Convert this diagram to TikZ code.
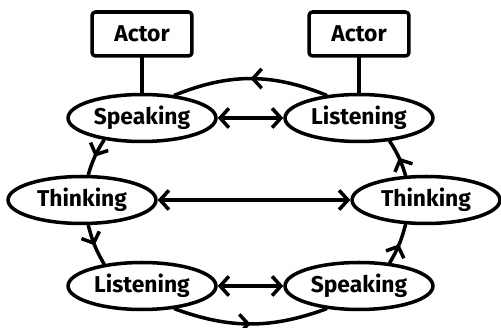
\documentclass[tikz,border=0pt]{standalone}
\usepackage{fontspec}
\setmainfont{Fira Sans}
\usetikzlibrary{arrows.meta,decorations.markings,shapes.geometric}

\begin{document}
\begin{tikzpicture}[x=0.02cm, y=0.02cm]
% Conversation loop between two actors
\providecommand{\loopLineWidth}{2pt}
\providecommand{\loopFont}{\fontsize{13pt}{15pt}\selectfont\bfseries}
\providecommand{\loopTip}{Straight Barb[length=5pt,width=11pt]}
\tikzset{
  state/.style={ellipse, draw, line width=\loopLineWidth, minimum width=2.96cm, minimum height=0.94cm, inner sep=0pt, font=\loopFont},
  actor/.style={rectangle, draw, rounded corners=2pt, line width=\loopLineWidth, minimum width=2cm, minimum height=0.88cm, font=\loopFont},
  barb/.style={line width=\loopLineWidth, {\loopTip}-{\loopTip}},
  flow/.style={line width=\loopLineWidth, postaction={decorate},
    decoration={markings, mark=at position 0.5 with {\arrow{\loopTip}}}},
}
\useasboundingbox (0,0) rectangle (501,328);
\begin{scope}[line cap=round, line join=round]
  % Actors
  \node[actor] (actorL) at (142,294) {Actor};
  \node[actor] (actorR) at (359,294) {Actor};
  % States
  \node[state] (speakL) at (142,210) {Speaking};
  \node[state] (listenR) at (359,210) {Listening};
  \node[state] (thinkL) at (82,128) {Thinking};
  \node[state] (thinkR) at (426,128) {Thinking};
  \node[state] (listenL) at (142,42) {Listening};
  \node[state] (speakR) at (359,42) {Speaking};
  % Actor links
  \draw[line width=\loopLineWidth] (actorL) -- (speakL);
  \draw[line width=\loopLineWidth] (actorR) -- (listenR);
  % Two-way links
  \draw[barb] (speakL) -- (listenR);
  \draw[barb] (thinkL) -- (thinkR);
  \draw[barb] (listenL) -- (speakR);
  % Outer loop
  \draw[flow] (listenR.145) to[bend right=22] (speakL.35);
  \draw[flow] (speakL.210) to[bend right=8] (thinkL.76);
  \draw[flow] (thinkL.-76) to[bend right=8] (listenL.150);
  \draw[flow] (listenL.-35) to[bend right=20] (speakR.215);
  \draw[flow] (speakR.37) to[bend right=8] (thinkR.230);
  \draw[flow] (thinkR.130) to[bend right=8] (listenR.-37);
\end{scope}
\end{tikzpicture}
\end{document}
